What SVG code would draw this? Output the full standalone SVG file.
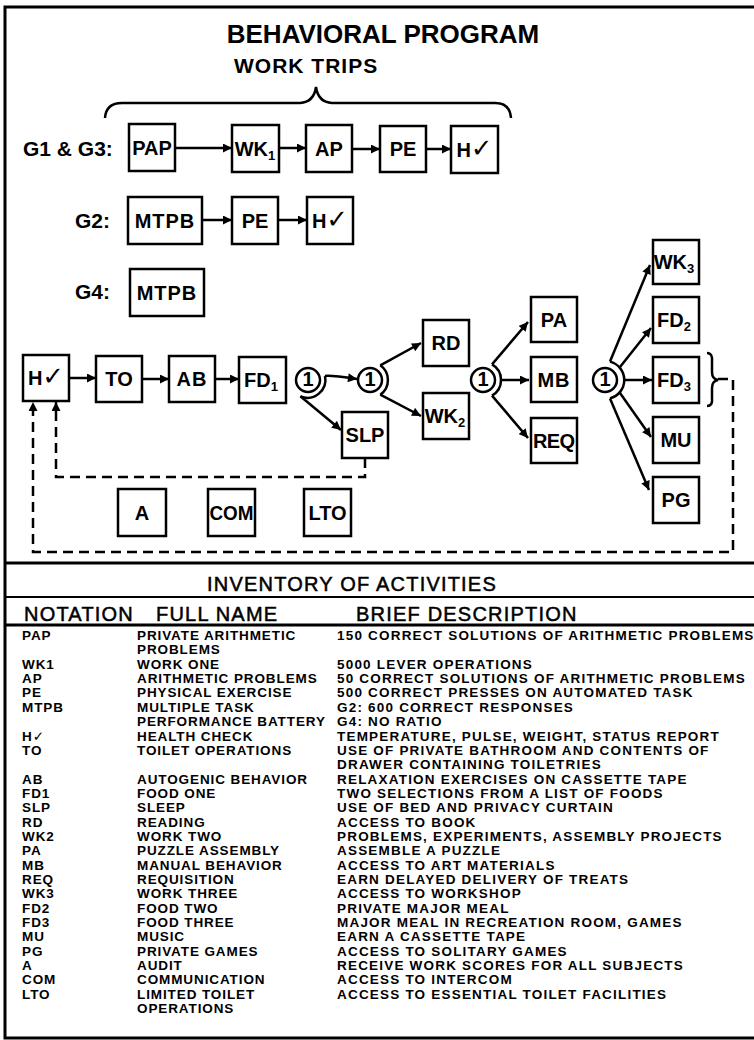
<svg xmlns="http://www.w3.org/2000/svg" width="754" height="1040" viewBox="0 0 754 1040">
<defs>
<style>
.bx{fill:#fff;stroke:#000;stroke-width:2.5}
.lbl{font-family:"Liberation Sans","DejaVu Sans",Arial,sans-serif;font-weight:bold;font-size:20px;text-anchor:middle;fill:#000}
.sub{font-size:13px}
.ck{font-family:"DejaVu Sans",sans-serif;font-size:26px;font-weight:bold}
.ln{stroke:#000;stroke-width:2.5;fill:none}
.dash{stroke-dasharray:10 6}
.hd{font-family:"Liberation Sans","DejaVu Sans",Arial,sans-serif;font-weight:bold;fill:#000}
.th{font-family:"Liberation Sans","DejaVu Sans",Arial,sans-serif;font-size:20px;letter-spacing:1.2px;fill:#000;stroke:#000;stroke-width:0.5}
.tb{font-family:"Liberation Sans","DejaVu Sans",Arial,sans-serif;font-weight:bold;font-size:13.5px;letter-spacing:0.9px;fill:#000}
.tbd{letter-spacing:1.2px}
</style>
<marker id="ah" viewBox="0 0 10 10" refX="10" refY="5" markerWidth="10" markerHeight="9" markerUnits="userSpaceOnUse" orient="auto"><path d="M0,0 L10,5 L0,10 z" fill="#000"/></marker>
</defs>
<rect x="0" y="0" width="754" height="1040" fill="#fff"/>
<rect x="5" y="7" width="760" height="1031" fill="none" stroke="#000" stroke-width="3"/>
<line x1="5" y1="563" x2="754" y2="563" stroke="#000" stroke-width="3"/>
<line x1="5" y1="597" x2="754" y2="597" stroke="#000" stroke-width="2"/>
<line x1="5" y1="625" x2="754" y2="625" stroke="#000" stroke-width="3"/>

<text class="hd" x="383" y="43" font-size="26" text-anchor="middle">BEHAVIORAL PROGRAM</text>
<text class="hd" x="234" y="73" font-size="21" letter-spacing="1">WORK TRIPS</text>
<path class="ln" d="M105,118 Q106,103 122,103 L300,103 Q314,102 316,87 Q318,102 332,103 L495,103 Q510,103 511,118"/>

<text class="hd" x="23" y="156" font-size="21">G1 &amp; G3:</text>
<text class="hd" x="75" y="228" font-size="21">G2:</text>
<text class="hd" x="75" y="299" font-size="21">G4:</text>

<g id="connectors">
<line class="ln" x1="175" y1="148" x2="232" y2="148" marker-end="url(#ah)"/>
<line class="ln" x1="279" y1="148" x2="306" y2="148" marker-end="url(#ah)"/>
<line class="ln" x1="352" y1="149" x2="380" y2="149" marker-end="url(#ah)"/>
<line class="ln" x1="426" y1="149" x2="451" y2="149" marker-end="url(#ah)"/>
<line class="ln" x1="202" y1="220" x2="232" y2="220" marker-end="url(#ah)"/>
<line class="ln" x1="278" y1="220" x2="307" y2="220" marker-end="url(#ah)"/>
<line class="ln" x1="69" y1="378" x2="96" y2="378" marker-end="url(#ah)"/>
<line class="ln" x1="142" y1="379" x2="169" y2="379" marker-end="url(#ah)"/>
<line class="ln" x1="215" y1="379" x2="239" y2="379" marker-end="url(#ah)"/>
<path class="ln" d="M325,376 A18,18 0 0 1 300.4,396.3"/>
<path class="ln" d="M325,376 Q330,375 357,379" marker-end="url(#ah)"/>
<line class="ln" x1="300.4" y1="396.3" x2="341" y2="430" marker-end="url(#ah)"/>
<path class="ln" d="M380.3,365.3 A18,18 0 0 1 380.3,394.7"/>
<line class="ln" x1="380.3" y1="365.3" x2="421" y2="343" marker-end="url(#ah)"/>
<line class="ln" x1="380.3" y1="394.7" x2="421" y2="416" marker-end="url(#ah)"/>
<path class="ln" d="M492,364.4 A18,18 0 0 1 492,395.6"/>
<line class="ln" x1="492" y1="364.4" x2="528" y2="322" marker-end="url(#ah)"/>
<line class="ln" x1="501" y1="380" x2="529" y2="380" marker-end="url(#ah)"/>
<line class="ln" x1="492" y1="395.6" x2="528" y2="438" marker-end="url(#ah)"/>
<path class="ln" d="M610,361.6 A19,19 0 0 1 610,398.4"/>
<line class="ln" x1="610" y1="361.6" x2="650" y2="265" marker-end="url(#ah)"/>
<line class="ln" x1="620" y1="367" x2="651" y2="328" marker-end="url(#ah)"/>
<line class="ln" x1="624" y1="380" x2="652" y2="380" marker-end="url(#ah)"/>
<line class="ln" x1="620" y1="393" x2="651" y2="437" marker-end="url(#ah)"/>
<line class="ln" x1="610" y1="398.4" x2="649" y2="490" marker-end="url(#ah)"/>
<path class="ln" d="M707,353 Q713,353 712,362 L712,372 Q712,379 718,380 Q712,381 712,388 L712,398 Q713,406 707,406"/>
<path class="ln dash" d="M718,379 L733,379 L733,552 L33,552 L33,402" marker-end="url(#ah)"/>
<path class="ln dash" d="M365,458 L365,477 L56,477 L56,402" marker-end="url(#ah)"/>
</g>

<g id="n-pap"><rect class="bx" x="129" y="124" width="46" height="47"/><text class="lbl" x="152" y="155">PAP</text></g>
<g id="n-wk1"><rect class="bx" x="232" y="125" width="47" height="47"/><text class="lbl" x="255" y="156">WK<tspan class="sub" dy="4">1</tspan></text></g>
<g id="n-ap"><rect class="bx" x="306" y="125" width="46" height="47"/><text class="lbl" x="329" y="156">AP</text></g>
<g id="n-pe1"><rect class="bx" x="380" y="126" width="46" height="46"/><text class="lbl" x="403" y="156">PE</text></g>
<g id="n-hc1"><rect class="bx" x="451" y="126" width="47" height="47"/><text class="lbl" x="474.5" y="157">H<tspan class="ck">✓</tspan></text></g>

<g id="n-mtpb2"><rect class="bx" x="128" y="197" width="74" height="47"/><text class="lbl" x="165" y="228" letter-spacing="1">MTPB</text></g>
<g id="n-pe2"><rect class="bx" x="232" y="197" width="46" height="47"/><text class="lbl" x="255" y="228">PE</text></g>
<g id="n-hc2"><rect class="bx" x="307" y="197" width="46" height="47"/><text class="lbl" x="330" y="228">H<tspan class="ck">✓</tspan></text></g>

<g id="n-mtpb4"><rect class="bx" x="130" y="269" width="74" height="47"/><text class="lbl" x="167" y="300" letter-spacing="1">MTPB</text></g>

<g id="n-hc"><rect class="bx" x="23" y="355" width="46" height="46"/><text class="lbl" x="46" y="385">H<tspan class="ck">✓</tspan></text></g>
<g id="n-to"><rect class="bx" x="96" y="356" width="46" height="46"/><text class="lbl" x="119" y="386">TO</text></g>
<g id="n-ab"><rect class="bx" x="169" y="356" width="46" height="46"/><text class="lbl" x="192" y="386" letter-spacing="1">AB</text></g>
<g id="n-fd1"><rect class="bx" x="239" y="357" width="47" height="46"/><text class="lbl" x="261" y="387">FD<tspan class="sub" dy="4">1</tspan></text></g>

<g id="n-c1"><circle cx="308" cy="380" r="12" class="bx"/><text class="lbl" x="308" y="386" font-size="16">1</text></g>
<g id="n-c2"><circle cx="370" cy="380" r="12" class="bx"/><text class="lbl" x="370" y="386" font-size="16">1</text></g>
<g id="n-c3"><circle cx="483" cy="380" r="12" class="bx"/><text class="lbl" x="483" y="386" font-size="16">1</text></g>
<g id="n-c4"><circle cx="605" cy="380" r="12" class="bx"/><text class="lbl" x="605" y="386" font-size="16">1</text></g>

<g id="n-slp"><rect class="bx" x="342" y="412" width="46" height="46"/><text class="lbl" x="365" y="442">SLP</text></g>
<g id="n-rd"><rect class="bx" x="423" y="320" width="46" height="46"/><text class="lbl" x="446" y="350">RD</text></g>
<g id="n-wk2"><rect class="bx" x="423" y="393" width="46" height="46"/><text class="lbl" x="445" y="423">WK<tspan class="sub" dy="4">2</tspan></text></g>
<g id="n-pa"><rect class="bx" x="531" y="297" width="46" height="45"/><text class="lbl" x="554" y="327">PA</text></g>
<g id="n-mb"><rect class="bx" x="531" y="357" width="46" height="45"/><text class="lbl" x="554" y="387" letter-spacing="1">MB</text></g>
<g id="n-req"><rect class="bx" x="531" y="418" width="46" height="45"/><text class="lbl" x="554" y="448" textLength="42">REQ</text></g>
<g id="n-wk3"><rect class="bx" x="653" y="240" width="46" height="44"/><text class="lbl" x="674" y="269">WK<tspan class="sub" dy="4">3</tspan></text></g>
<g id="n-fd2"><rect class="bx" x="653" y="297" width="46" height="46"/><text class="lbl" x="674" y="327">FD<tspan class="sub" dy="4">2</tspan></text></g>
<g id="n-fd3"><rect class="bx" x="653" y="357" width="46" height="46"/><text class="lbl" x="674" y="387">FD<tspan class="sub" dy="4">3</tspan></text></g>
<g id="n-mu"><rect class="bx" x="653" y="417" width="46" height="46"/><text class="lbl" x="676" y="447">MU</text></g>
<g id="n-pg"><rect class="bx" x="653" y="477" width="46" height="46"/><text class="lbl" x="676" y="507">PG</text></g>

<g id="n-a"><rect class="bx" x="118" y="489" width="48" height="47"/><text class="lbl" x="142" y="520">A</text></g>
<g id="n-com"><rect class="bx" x="208" y="489" width="47" height="47"/><text class="lbl" x="231.5" y="520" textLength="44" lengthAdjust="spacingAndGlyphs">COM</text></g>
<g id="n-lto"><rect class="bx" x="304" y="489" width="47" height="47"/><text class="lbl" x="327.5" y="520">LTO</text></g>

<g id="table">
<text class="th" x="352" y="591" text-anchor="middle">INVENTORY OF ACTIVITIES</text>
<text class="th" x="24" y="621" letter-spacing="0.8">NOTATION</text>
<text class="th" x="156" y="621">FULL NAME</text>
<text class="th" x="356" y="621" letter-spacing="1.8">BRIEF DESCRIPTION</text>
<text class="tb">
<tspan x="22" y="640">PAP</tspan>
<tspan x="22" y="668.7">WK1</tspan>
<tspan x="22" y="683.1">AP</tspan>
<tspan x="22" y="697.4">PE</tspan>
<tspan x="22" y="711.8">MTPB</tspan>
<tspan x="22" y="740.5">H✓</tspan>
<tspan x="22" y="754.8">TO</tspan>
<tspan x="22" y="783.5">AB</tspan>
<tspan x="22" y="797.9">FD1</tspan>
<tspan x="22" y="812.2">SLP</tspan>
<tspan x="22" y="826.6">RD</tspan>
<tspan x="22" y="840.9">WK2</tspan>
<tspan x="22" y="855.3">PA</tspan>
<tspan x="22" y="869.6">MB</tspan>
<tspan x="22" y="884">REQ</tspan>
<tspan x="22" y="898.3">WK3</tspan>
<tspan x="22" y="912.7">FD2</tspan>
<tspan x="22" y="927">FD3</tspan>
<tspan x="22" y="941.4">MU</tspan>
<tspan x="22" y="955.7">PG</tspan>
<tspan x="22" y="970.1">A</tspan>
<tspan x="22" y="984.4">COM</tspan>
<tspan x="22" y="998.8">LTO</tspan>
</text>
<text class="tb">
<tspan x="137" y="640">PRIVATE ARITHMETIC</tspan>
<tspan x="137" y="654.4">PROBLEMS</tspan>
<tspan x="137" y="668.7">WORK ONE</tspan>
<tspan x="137" y="683.1">ARITHMETIC PROBLEMS</tspan>
<tspan x="137" y="697.4">PHYSICAL EXERCISE</tspan>
<tspan x="137" y="711.8">MULTIPLE TASK</tspan>
<tspan x="137" y="726.1">PERFORMANCE BATTERY</tspan>
<tspan x="137" y="740.5">HEALTH CHECK</tspan>
<tspan x="137" y="754.8">TOILET OPERATIONS</tspan>
<tspan x="137" y="783.5">AUTOGENIC BEHAVIOR</tspan>
<tspan x="137" y="797.9">FOOD ONE</tspan>
<tspan x="137" y="812.2">SLEEP</tspan>
<tspan x="137" y="826.6">READING</tspan>
<tspan x="137" y="840.9">WORK TWO</tspan>
<tspan x="137" y="855.3">PUZZLE ASSEMBLY</tspan>
<tspan x="137" y="869.6">MANUAL BEHAVIOR</tspan>
<tspan x="137" y="884">REQUISITION</tspan>
<tspan x="137" y="898.3">WORK THREE</tspan>
<tspan x="137" y="912.7">FOOD TWO</tspan>
<tspan x="137" y="927">FOOD THREE</tspan>
<tspan x="137" y="941.4">MUSIC</tspan>
<tspan x="137" y="955.7">PRIVATE GAMES</tspan>
<tspan x="137" y="970.1">AUDIT</tspan>
<tspan x="137" y="984.4">COMMUNICATION</tspan>
<tspan x="137" y="998.8">LIMITED TOILET</tspan>
<tspan x="137" y="1013.1">OPERATIONS</tspan>
</text>
<text class="tb tbd">
<tspan x="337" y="640">150 CORRECT SOLUTIONS OF ARITHMETIC PROBLEMS</tspan>
<tspan x="337" y="668.7">5000 LEVER OPERATIONS</tspan>
<tspan x="337" y="683.1">50 CORRECT SOLUTIONS OF ARITHMETIC PROBLEMS</tspan>
<tspan x="337" y="697.4">500 CORRECT PRESSES ON AUTOMATED TASK</tspan>
<tspan x="337" y="711.8">G2: 600 CORRECT RESPONSES</tspan>
<tspan x="337" y="726.1">G4: NO RATIO</tspan>
<tspan x="337" y="740.5">TEMPERATURE, PULSE, WEIGHT, STATUS REPORT</tspan>
<tspan x="337" y="754.8">USE OF PRIVATE BATHROOM AND CONTENTS OF</tspan>
<tspan x="337" y="769.2">DRAWER CONTAINING TOILETRIES</tspan>
<tspan x="337" y="783.5">RELAXATION EXERCISES ON CASSETTE TAPE</tspan>
<tspan x="337" y="797.9">TWO SELECTIONS FROM A LIST OF FOODS</tspan>
<tspan x="337" y="812.2">USE OF BED AND PRIVACY CURTAIN</tspan>
<tspan x="337" y="826.6">ACCESS TO BOOK</tspan>
<tspan x="337" y="840.9">PROBLEMS, EXPERIMENTS, ASSEMBLY PROJECTS</tspan>
<tspan x="337" y="855.3">ASSEMBLE A PUZZLE</tspan>
<tspan x="337" y="869.6">ACCESS TO ART MATERIALS</tspan>
<tspan x="337" y="884">EARN DELAYED DELIVERY OF TREATS</tspan>
<tspan x="337" y="898.3">ACCESS TO WORKSHOP</tspan>
<tspan x="337" y="912.7">PRIVATE MAJOR MEAL</tspan>
<tspan x="337" y="927">MAJOR MEAL IN RECREATION ROOM, GAMES</tspan>
<tspan x="337" y="941.4">EARN A CASSETTE TAPE</tspan>
<tspan x="337" y="955.7">ACCESS TO SOLITARY GAMES</tspan>
<tspan x="337" y="970.1">RECEIVE WORK SCORES FOR ALL SUBJECTS</tspan>
<tspan x="337" y="984.4">ACCESS TO INTERCOM</tspan>
<tspan x="337" y="998.8">ACCESS TO ESSENTIAL TOILET FACILITIES</tspan>
</text>
</g>
</svg>
